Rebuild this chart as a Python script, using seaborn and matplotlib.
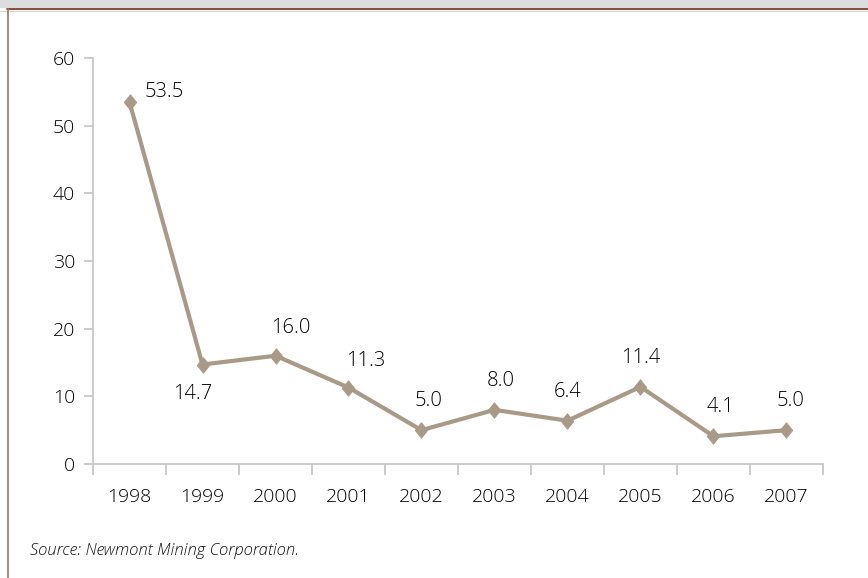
import matplotlib
matplotlib.use("Agg")
import matplotlib.pyplot as plt
import seaborn as sns
import pandas as pd
from matplotlib.patches import Rectangle
from matplotlib.lines import Line2D
from matplotlib.path import Path

# Data
years = ["1998", "1999", "2000", "2001", "2002", "2003", "2004", "2005", "2006", "2007"]
values = [53.5, 14.7, 16.0, 11.3, 5.0, 8.0, 6.4, 11.4, 4.1, 5.0]
y_ticks = [0, 10, 20, 30, 40, 50, 60]
source_text = "Source: Newmont Mining Corporation."

# Label placement (pixel offsets from each point)
label_offsets = [(35, 10), (-10, -29), (15, 28), (17, 27), (7, 29),
                 (6, 29), (0, 29), (0, 29), (7, 29), (4, 29)]

sns.set_theme(style="white")
plt.rcParams["font.family"] = ["Open Sans", "DejaVu Sans"]
plt.rcParams["font.weight"] = 300

line_color = "#a99a87"
text_color = "#000000"
axis_color = "#c4c4c4"

fig = plt.figure(figsize=(8.68, 5.78), dpi=100)
fig.patch.set_facecolor("white")

# Frame: grey band on top, brown rules on top and left
fig.add_artist(Rectangle((0, 1 - 8 / 578), 1, 8 / 578, transform=fig.transFigure,
                         facecolor="#dcdddf", edgecolor="none"))
fig.add_artist(Line2D([7 / 868, 1], [1 - 9 / 578, 1 - 9 / 578], transform=fig.transFigure,
                      color="#7d3f29", lw=1.3))
fig.add_artist(Line2D([0, 1], [1 - 10.5 / 578, 1 - 10.5 / 578], transform=fig.transFigure,
                      color="#e6d3c8", lw=0.8))
fig.add_artist(Line2D([7.5 / 868, 7.5 / 868], [0, 1 - 9 / 578], transform=fig.transFigure,
                      color="#a4705f", lw=1.2))

ax = fig.add_axes([93 / 868, 1 - 464 / 578, (823 - 93) / 868, (464 - 58) / 578])

df = pd.DataFrame({"year": years, "value": values})
diamond = Path([(0, 1), (0.8, 0), (0, -1), (-0.8, 0), (0, 1)],
               [Path.MOVETO, Path.LINETO, Path.LINETO, Path.LINETO, Path.CLOSEPOLY])
sns.lineplot(data=df, x="year", y="value", ax=ax, color=line_color, lw=3,
             marker=diamond, markersize=11, markeredgecolor=line_color,
             markerfacecolor=line_color, sort=False)

for i, (v, off) in enumerate(zip(values, label_offsets)):
    ax.annotate(f"{v:.1f}", (i, v), xytext=off, textcoords="offset pixels",
                ha="center", va="center", fontsize=14.5, color=text_color)

ax.set_xlim(-0.5, len(years) - 0.5)
ax.set_ylim(0, 60)
ax.set_yticks(y_ticks)
ax.set_xticks(range(len(years)))
ax.set_xticklabels(years)
ax.set_xticks([i - 0.5 for i in range(len(years) + 1)], minor=True)
ax.set_xlabel("")
ax.set_ylabel("")

for s in ["top", "right"]:
    ax.spines[s].set_visible(False)
for s in ["left", "bottom"]:
    ax.spines[s].set_color(axis_color)
    ax.spines[s].set_linewidth(1.2)

ax.tick_params(axis="x", which="major", length=0, pad=17, labelsize=14, labelcolor=text_color)
ax.tick_params(axis="x", which="minor", length=8, width=1.2, color=axis_color, direction="out")
ax.tick_params(axis="y", which="major", length=6.5, width=1.2, color=axis_color, left=True,
               pad=6.5, labelsize=14, labelcolor=text_color)
ax.tick_params(axis="x", which="minor", bottom=True)

fig.text(30 / 868, 1 - 551 / 578, source_text, fontsize=12, style="italic",
         color="#111111", va="center", ha="left")

fig.savefig("out.png", dpi=100)
